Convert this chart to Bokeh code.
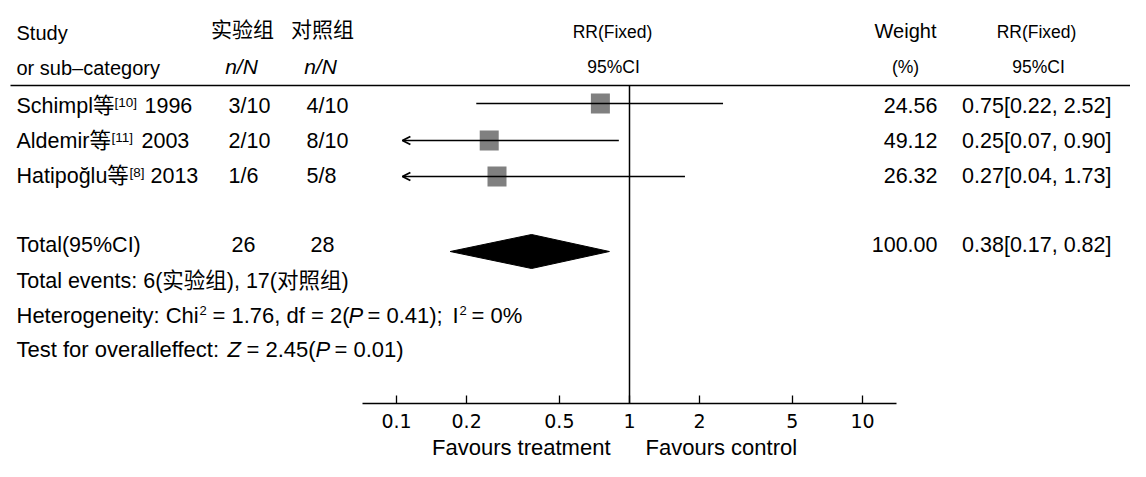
from bokeh.plotting import figure
from bokeh.models import (Range1d, LogScale, LogAxis, FixedTicker, CustomJSTickFormatter,
                          Arrow, OpenHead, ColumnDataSource)
from bokeh.core.properties import value
from bokeh.embed import file_html
from bokeh.resources import INLINE

# ---------------- data ----------------
studies = ["Schimpl等", "Aldemir等", "Hatipoğlu等"]
refs = ["[10]", "[11]", "[8]"]
years = ["1996", "2003", "2013"]
exp_nN = ["3/10", "2/10", "1/6"]
ctl_nN = ["4/10", "8/10", "5/8"]
weights = [24.56, 49.12, 26.32]
rr = [0.75, 0.25, 0.27]
ci_low = [0.22, 0.07, 0.04]
ci_high = [2.52, 0.90, 1.73]

total_exp = 26
total_ctl = 28
total_weight = 100.00
total_rr = 0.38
total_low = 0.17
total_high = 0.82

events_exp = 6
events_ctl = 17
chi2 = 1.76
df = 2
p_het = 0.41
i2 = 0
z_val = 2.45
p_z = 0.01

tick_values = [0.1, 0.2, 0.5, 1, 2, 5, 10]
null_effect = 1

# ---------------- layout (pixel-like page coordinates) ----------------
W, H = 1130, 461
X_ONE = 629        # page x of RR = 1
DEC = 233          # pixels per decade
AX_L, AX_R = 362, 896
AX_Y = 403
ARROW_LIMIT = 0.106
BASELINE_FIX = 0.36   # empirical correction of the alphabetic baseline (fraction of font size)

FONT = "'Liberation Sans', 'Noto Sans CJK SC', sans-serif"

p = figure(width=W, height=H,
           x_range=Range1d(0, W), y_range=Range1d(H, 0),
           x_axis_type=None, y_axis_type=None,
           toolbar_location=None, output_backend="svg",
           min_border=0, min_border_left=0, min_border_right=0,
           min_border_top=0, min_border_bottom=0,
           outline_line_color=None)
p.extra_x_ranges = {"rr": Range1d(10 ** ((0 - X_ONE) / DEC), 10 ** ((W - X_ONE) / DEC))}
p.extra_x_scales = {"rr": LogScale()}

ax = LogAxis(x_range_name="rr", fixed_location=AX_Y,
             bounds=(10 ** ((AX_L - X_ONE) / DEC), 10 ** ((AX_R - X_ONE) / DEC)),
             ticker=FixedTicker(ticks=tick_values, minor_ticks=[]),
             formatter=CustomJSTickFormatter(code="return tick.toString();"),
             major_tick_in=8, major_tick_out=0,
             minor_tick_line_color=None,
             axis_line_width=1.3, major_tick_line_width=1.3,
             axis_line_color="black", major_tick_line_color="black",
             major_label_text_font="DejaVu Sans", major_label_text_font_size="19px",
             major_label_standoff=10, major_label_text_color="black")
p.add_layout(ax, "below")


def put(xs, ys, texts, size, align="left", style="normal", x_range_name=None, x_offset=0):
    shift = BASELINE_FIX * size
    src = ColumnDataSource(dict(x=xs, y=[v - shift for v in ys], t=texts))
    kw = {}
    if x_range_name:
        kw["x_range_name"] = x_range_name
    p.text(x="x", y="y", text="t", source=src, text_font=value(FONT),
           text_font_size=f"{size}px", text_align=align, text_baseline="alphabetic",
           text_font_style=style, text_color="black", x_offset=x_offset, **kw)


# headers
put([16], [40], ["Study"], 20)
put([16], [75], ["or sub–category"], 20)
put([242, 322], [37, 37], ["实验组", "对照组"], 21, "center")
put([241, 320], [74, 74], ["n/N", "n/N"], 21, "center", "italic")
put([612, 1036], [38, 38], ["RR(Fixed)", "RR(Fixed)"], 17.5, "center")
put([613, 1038], [73, 73], ["95%CI", "95%CI"], 17.5, "center")
put([905], [38], ["Weight"], 20, "center")
put([905], [73], ["(%)"], 17.5, "center")

# header rule
p.segment(x0=[10], x1=[1130], y0=[85], y1=[85], line_color="black", line_width=1.5)

# study rows
ROW_Y = [103, 140, 176]
BASE = [113, 148, 183]
REF_X = [114, 111, 129]
YEAR_X = [144, 141, 150]
put([16] * 3, BASE, studies, 21.5)
put(REF_X, [b - 6.5 for b in BASE], refs, 13.5)
put(YEAR_X, BASE, years, 21.5)
put([228] * 3, BASE, exp_nN, 21.5)
put([306] * 3, BASE, ctl_nN, 21.5)
put([937] * 3, BASE, [f"{w:.2f}" for w in weights], 21.5, "right")
put([1111] * 3, BASE, [f"{r:.2f}[{l:.2f}, {h:.2f}]" for r, l, h in zip(rr, ci_low, ci_high)],
    21.5, "right")

# total row
TOT_BASE = 252
TOT_Y = 251
put([16], [TOT_BASE], ["Total(95%CI)"], 21.5)
put([231, 310], [TOT_BASE, TOT_BASE], [str(total_exp), str(total_ctl)], 21.5)
put([937], [TOT_BASE], [f"{total_weight:.2f}"], 21.5, "right")
put([1111], [TOT_BASE], [f"{total_rr:.2f}[{total_low:.2f}, {total_high:.2f}]"], 21.5, "right")

# footnotes
put([16], [288], [f"Total events: {events_exp}(实验组), {events_ctl}(对照组)"], 21.5)
L2 = 323
put([16, 212, 286, 367, 452, 471], [L2] * 6,
    ["Heterogeneity: Chi", f"= {chi2:.2f},", f"df = {df}(", f"= {p_het:.2f});", "I", f"= {i2}%"], 22)
put([348], [L2], ["P"], 22, "left", "italic")
put([199, 459], [L2 - 8, L2 - 8], ["2", "2"], 13)
L3 = 357
put([16, 246, 334], [L3] * 3, ["Test for overalleffect:", f"= {z_val:.2f}(", f"= {p_z:.2f})"], 22)
put([227, 315], [L3, L3], ["Z", "P"], 22, "left", "italic")

# null-effect line
p.segment(x0=[null_effect], x1=[null_effect], y0=[85], y1=[AX_Y], x_range_name="rr",
          line_color="black", line_width=1.5)

# squares
p.rect(x=rr, y=ROW_Y, width=19, height=20, width_units="screen", height_units="screen",
       fill_color="#808080", line_color=None, x_range_name="rr")

# CI lines (with arrows when cut off)
seg_idx = [i for i in range(len(rr)) if ci_low[i] >= ARROW_LIMIT]
arr_idx = [i for i in range(len(rr)) if ci_low[i] < ARROW_LIMIT]
p.segment(x0=[ci_low[i] for i in seg_idx], x1=[ci_high[i] for i in seg_idx],
          y0=[ROW_Y[i] for i in seg_idx], y1=[ROW_Y[i] for i in seg_idx],
          x_range_name="rr", line_color="black", line_width=1.3)
arr_src = ColumnDataSource(dict(x0=[ci_high[i] for i in arr_idx],
                                x1=[ARROW_LIMIT for i in arr_idx],
                                y=[ROW_Y[i] for i in arr_idx]))
p.add_layout(Arrow(end=OpenHead(size=8, line_width=1.8, line_color="black"),
                   x_start="x0", y_start="y", x_end="x1", y_end="y", source=arr_src,
                   line_color="black", line_width=1.3, x_range_name="rr"))

# diamond
p.patch(x=[total_low, total_rr, total_high, total_rr],
        y=[TOT_Y, TOT_Y - 17, TOT_Y, TOT_Y + 17],
        x_range_name="rr", fill_color="black", line_color="black", line_width=1)

# favours labels
put([null_effect], [455], ["Favours treatment"], 22, "right", x_range_name="rr", x_offset=-19)
put([null_effect], [455], ["Favours control"], 22, "left", x_range_name="rr", x_offset=16)

open("out.html", "w").write(file_html(p, INLINE))
